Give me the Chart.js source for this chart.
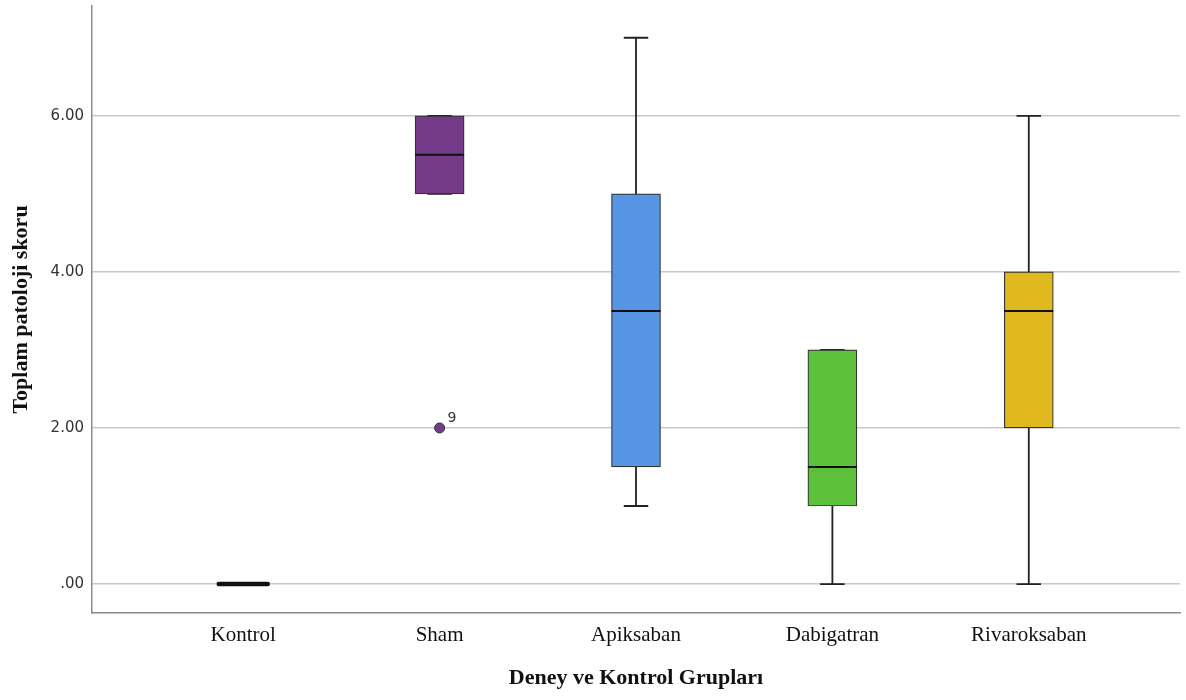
<!DOCTYPE html>
<html>
<head>
<meta charset="utf-8">
<script src="https://cdn.jsdelivr.net/npm/chart.js@4.4.1/dist/chart.umd.min.js"></script>
<style>
  body { margin: 0; background: #fff; }
  canvas { display: block; }
</style>
</head>
<body>
<canvas id="boxChart" width="1186" height="700"></canvas>
<script>
// Box plot summary per group
const groups = ['Kontrol', 'Sham', 'Apiksaban', 'Dabigatran', 'Rivaroksaban'];
const mins    = [0, 5,   1,   0,   0];
const q1s     = [0, 5,   1.5, 1,   2];
const medians = [0, 5.5, 3.5, 1.5, 3.5];
const q3s     = [0, 6,   5,   3,   4];
const maxs    = [0, 6,   7,   3,   6];
const boxColors = ['#000000', '#763a8b', '#5595e4', '#5dc03a', '#e0b91f'];
// outliers: group index, value, case label
const outlierGroup = [1];
const outlierValue = [2];
const outlierLabel = ['9'];
const yTicks = [0, 2, 4, 6];

const BOX_W = 49;

// whiskers (drawn under the boxes) and medians / outlier labels (on top)
const boxPlotPlugin = {
  id: 'boxPlot',
  beforeDatasetsDraw(chart) {
    const { ctx, scales: { x, y } } = chart;
    ctx.save();
    ctx.strokeStyle = '#222';
    ctx.lineWidth = 1.8;
    groups.forEach((g, i) => {
      if (i === 0) return;
      const cx = x.getPixelForValue(i);
      const capHalf = BOX_W / 4;
      const yMin = y.getPixelForValue(mins[i]);
      const yMax = y.getPixelForValue(maxs[i]);
      ctx.beginPath();
      ctx.moveTo(cx, yMin);
      ctx.lineTo(cx, yMax);
      ctx.moveTo(cx - capHalf, yMin);
      ctx.lineTo(cx + capHalf, yMin);
      ctx.moveTo(cx - capHalf, yMax);
      ctx.lineTo(cx + capHalf, yMax);
      ctx.stroke();
    });
    ctx.restore();
  },
  afterDatasetsDraw(chart) {
    const { ctx, scales: { x, y } } = chart;
    ctx.save();
    ctx.strokeStyle = '#111';
    groups.forEach((g, i) => {
      const cx = x.getPixelForValue(i);
      const ym = y.getPixelForValue(medians[i]);
      ctx.lineWidth = (q1s[i] === q3s[i]) ? 4.5 : 2;
      ctx.lineCap = (q1s[i] === q3s[i]) ? 'round' : 'butt';
      ctx.beginPath();
      ctx.moveTo(cx - BOX_W / 2, ym);
      ctx.lineTo(cx + BOX_W / 2, ym);
      ctx.stroke();
    });
    ctx.fillStyle = '#333';
    ctx.font = '14px "DejaVu Sans"';
    ctx.textAlign = 'left';
    ctx.textBaseline = 'bottom';
    outlierGroup.forEach((gi, k) => {
      const px = x.getPixelForValue(gi);
      const py = y.getPixelForValue(outlierValue[k]);
      ctx.fillText(outlierLabel[k], px + 8, py - 3);
    });
    ctx.restore();
  }
};

const ctx = document.getElementById('boxChart');
new Chart(ctx, {
  type: 'bar',
  data: {
    datasets: [
      {
        type: 'bar',
        label: 'IQR',
        data: groups.map((g, i) => ({ x: i, y: [q1s[i], q3s[i]] })),
        backgroundColor: boxColors,
        borderColor: '#333',
        borderWidth: 1.2,
        borderSkipped: false,
        barThickness: BOX_W,
        order: 2
      },
      {
        type: 'scatter',
        label: 'Outliers',
        data: outlierGroup.map((gi, k) => ({ x: gi, y: outlierValue[k] })),
        backgroundColor: boxColors[1],
        borderColor: '#333',
        borderWidth: 1,
        pointRadius: 5,
        order: 1
      }
    ]
  },
  options: {
    responsive: false,
    animation: false,
    layout: { padding: { top: 5, right: 6, left: 0, bottom: 0 } },
    plugins: {
      legend: { display: false },
      tooltip: { enabled: false }
    },
    scales: {
      x: {
        type: 'linear',
        min: -0.77,
        max: 4.77,
        offset: false,
        grid: { display: false, drawTicks: false },
        border: { display: true, color: '#8c8c8c', width: 1.5 },
        ticks: {
          stepSize: 1,
          includeBounds: false,
          autoSkip: false,
          maxRotation: 0,
          padding: 10,
          color: '#111',
          font: { family: '"Liberation Serif", "Times New Roman", serif', size: 21 },
          callback: v => (Number.isInteger(v) && groups[v]) ? groups[v] : ''
        },
        title: {
          display: true,
          text: 'Deney ve Kontrol Grupları',
          color: '#111',
          font: { family: '"Liberation Serif", "Times New Roman", serif', size: 22, weight: 'bold' },
          padding: { top: 0, bottom: 8 }
        },
        afterFit: s => { s.height = 87; s.paddingLeft = 0; s.paddingRight = 0; }
      },
      y: {
        min: -0.371,
        max: 7.407,
        grid: { color: '#c8c8c8', lineWidth: 1.5, drawTicks: false },
        border: { display: true, color: '#8c8c8c', width: 1.5 },
        afterBuildTicks: s => { s.ticks = yTicks.map(v => ({ value: v })); },
        ticks: {
          includeBounds: false,
          padding: 8,
          color: '#333',
          font: { family: '"DejaVu Sans", sans-serif', size: 15 },
          callback: v => v === 0 ? '.00' : v.toFixed(2)
        },
        title: {
          display: true,
          text: 'Toplam patoloji skoru',
          color: '#111',
          font: { family: '"Liberation Serif", "Times New Roman", serif', size: 22, weight: 'bold' },
          padding: { top: 8, bottom: 0 }
        },
        afterFit: s => { s.width = 92; s.paddingTop = 0; s.paddingBottom = 0; }
      }
    }
  },
  plugins: [boxPlotPlugin]
});
</script>
</body>
</html>
